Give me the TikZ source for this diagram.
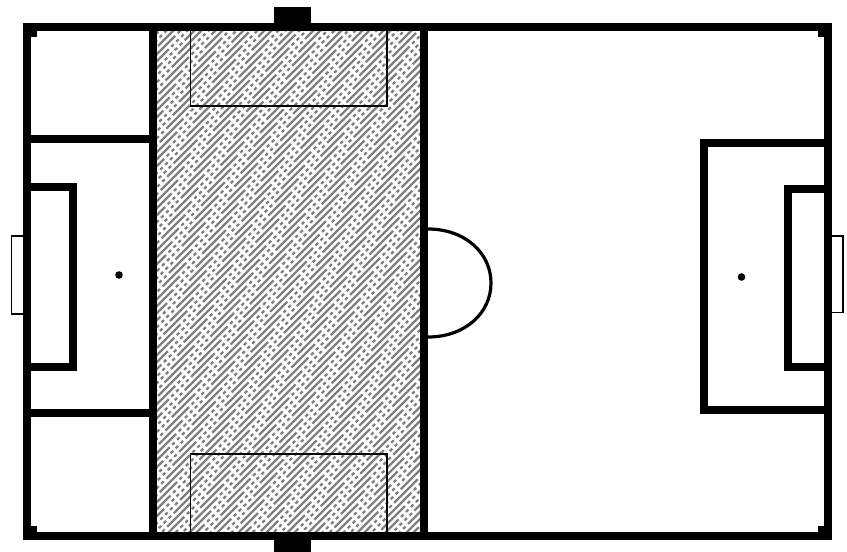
\documentclass[tikz,border=0pt]{standalone}
\usepackage{xcolor}
\usepackage{tikz}
\usetikzlibrary{calc}

\definecolor{stripegray}{gray}{0.5}

\begin{document}
\begin{tikzpicture}[
  x=1pt, y=-1pt,
  fieldline/.style={draw, line width=8pt, line join=miter},
  thinline/.style={draw, line width=1.2pt},
  stripe/.style={stripegray, line width=2.4pt,
    dash pattern=on 3.4pt off 3.6pt on 3.4pt off 3.6pt on 3.4pt off 3.6pt on 3.4pt off 3.6pt on 3.4pt off 3.6pt on 30pt off 0pt}
]
\useasboundingbox (0,0) rectangle (847,552);
\fill[white] (0,0) rectangle (847,552);

% shaded third
\begin{scope}
  \clip (153,27) rectangle (424,536);
  \foreach \k in {0,...,112} {
    \pgfmathsetmacro{\c}{183+7*\k}
    \pgfmathsetmacro{\ph}{mod(\k*19,65)}
    \draw[stripe, dash phase=\ph pt] (\c-536,536) -- (\c-27,27);
  }
\end{scope}

% goals
\draw[thinline] (24,236) -- (11.5,236) -- (11.5,314) -- (24,314);
\draw[thinline] (832,236) -- (843,236) -- (843,312.5) -- (832,312.5);
\fill[black] (274,7) rectangle (311,24);
\fill[black] (274,538) rectangle (311,552);

% penalty boxes of the shaded third
\draw[thinline] (190.5,31) -- (190.5,106) -- (387,106) -- (387,31);
\draw[thinline] (190.5,532) -- (190.5,454) -- (387,454) -- (387,532);

% outer lines and thirds
\draw[fieldline] (27,27) rectangle (828,536);
\draw[fieldline] (153,27) -- (153,536);
\draw[fieldline] (424,27) -- (424,536);

% corners
\foreach \cx/\cy in {31/31, 31/532, 824/31, 824/532} {
  \fill[black] (\cx-6,\cy-6) rectangle (\cx+6,\cy+6);
}

% left side
\draw[fieldline] (27,139) -- (153,139);
\draw[fieldline] (27,413) -- (153,413);
\draw[fieldline] (27,187) -- (73,187) -- (73,367) -- (27,367);
\fill[black] (119,275) circle (3.8pt);

% right side
\draw[fieldline] (828,143) -- (704,143) -- (704,409.5) -- (828,409.5);
\draw[fieldline] (828,189) -- (788,189) -- (788,367) -- (828,367);
\fill[black] (741.5,277) circle (3.8pt);

% arc
\draw[line width=3.2pt] (428,229) .. controls (465,229) and (491,253) .. (491,283)
  .. controls (491,313) and (465,337) .. (428,337);
\end{tikzpicture}
\end{document}
